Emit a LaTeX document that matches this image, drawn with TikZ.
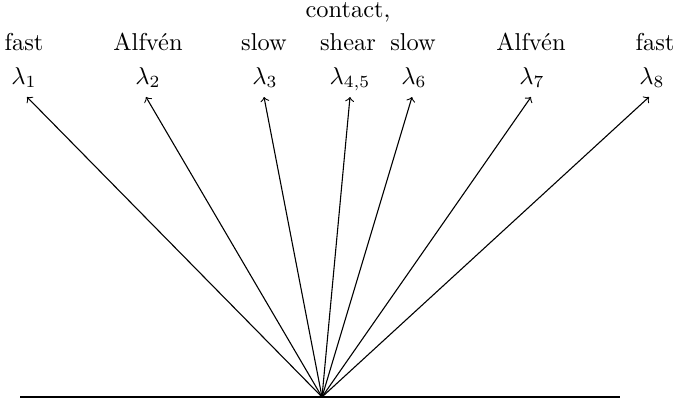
\documentclass[tikz,border=0pt]{standalone}
\begin{document}
\begin{tikzpicture}[x=0.41pt,y=-0.41pt,
  wave/.style={->,line width=0.45pt},
  lbl/.style={anchor=base,inner sep=0pt},
  ground/.style={line width=0.7pt}]
\useasboundingbox (0,0) rectangle (700,401);
% origin and ground
\coordinate (o) at (322,397);
\coordinate (gl) at (20,397);
\coordinate (gr) at (620,397);
\draw[ground] (gl) -- (gr);
% arrow tips
\coordinate (t1) at (27,97);
\coordinate (t2) at (146,97);
\coordinate (t3) at (264,97);
\coordinate (t45) at (350,97);
\coordinate (t6) at (412,97);
\coordinate (t7) at (531,97);
\coordinate (t8) at (649,97);
\foreach \t in {t1,t2,t3,t45,t6,t7,t8} \draw[wave] (o) -- (\t);
% eigenvalue labels
\node[lbl] (l1) at (24,84) {$\lambda_1$};
\node[lbl] (l2) at (148,84) {$\lambda_2$};
\node[lbl] (l3) at (265,84) {$\lambda_3$};
\node[lbl] (l45) at (350,84) {$\lambda_{4,5}$};
\node[lbl] (l6) at (414,84) {$\lambda_6$};
\node[lbl] (l7) at (532,84) {$\lambda_7$};
\node[lbl] (l8) at (652,84) {$\lambda_8$};
% wave names
\node[lbl] (n1) at (24,50) {fast};
\node[lbl] (n2) at (148,50) {Alfv\'en};
\node[lbl] (n3) at (264,50) {slow};
\node[lbl] (n45) at (348,50) {shear};
\node[lbl] (n45b) at (348,17) {contact,};
\node[lbl] (n6) at (413,50) {slow};
\node[lbl] (n7) at (531,50) {Alfv\'en};
\node[lbl] (n8) at (655,50) {fast};
\end{tikzpicture}
\end{document}
